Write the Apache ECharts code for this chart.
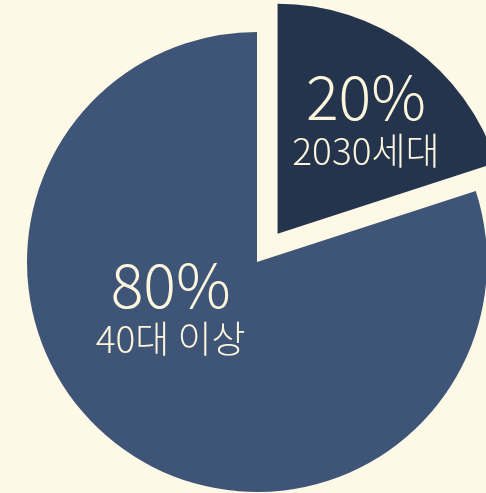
<!DOCTYPE html>
<html><head><meta charset="utf-8">
<script src="https://cdn.jsdelivr.net/npm/echarts@6/dist/echarts.min.js"></script>
<style>html,body{margin:0;padding:0;background:#fef8e7;}#c{width:486px;height:493px;}</style>
</head><body><div id="c"></div>
<script>
const categories = ['2030세대', '40대 이상'];
const values = [20, 80];
const colors = ['#24344d', '#3e5578'];
const labelShift = [[19, -18], [-17, -50]];

const chart = echarts.init(document.getElementById('c'), null, {renderer: 'canvas'});
chart.setOption({
  backgroundColor: '#fef8e7',
  animation: false,
  series: [{
    type: 'pie',
    center: [257, 262],
    radius: [0, 230],
    startAngle: 90,
    clockwise: true,
    selectedMode: 'single',
    selectedOffset: 35,
    emphasis: {disabled: true},
    data: categories.map((c, i) => ({
      name: c, value: values[i], selected: i === 0,
      itemStyle: {color: colors[i]}
    })),
    label: {
      show: true,
      position: 'inside',
      formatter: p => '{p|' + p.value + '%}\n{n|' + p.name + '}',
      rich: {
        p: {fontFamily: 'Noto Sans CJK KR', fontWeight: 200, fontSize: 61, lineHeight: 62, color: '#fdf5dc', align: 'center'},
        n: {fontFamily: 'Noto Sans CJK KR', fontWeight: 200, fontSize: 37, lineHeight: 46, color: '#fdf5dc', align: 'center'}
      }
    },
    labelLine: {show: false},
    labelLayout: p => ({dx: labelShift[p.dataIndex][0], dy: labelShift[p.dataIndex][1]})
  }]
});
</script></body></html>
